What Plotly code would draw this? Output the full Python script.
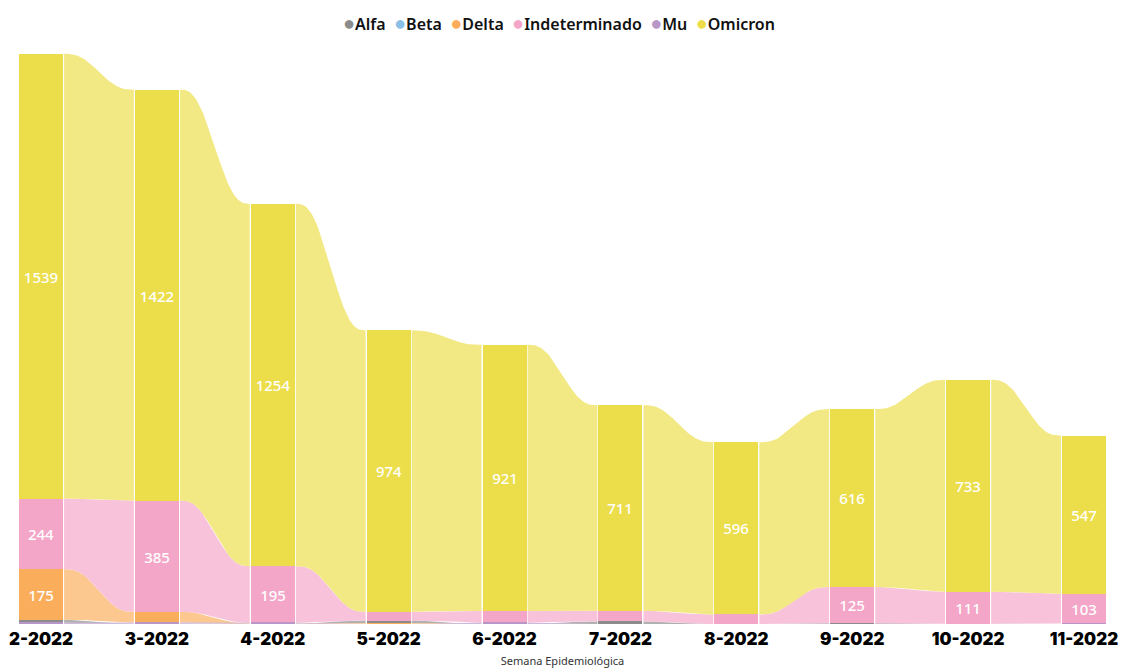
import numpy as np
import plotly.graph_objects as go

# ---- data ----
categories = ["2-2022", "3-2022", "4-2022", "5-2022", "6-2022",
              "7-2022", "8-2022", "9-2022", "10-2022", "11-2022"]
series_names = ["Alfa", "Beta", "Delta", "Indeterminado", "Mu", "Omicron"]
alfa = [11, 1, 0, 9, 0, 9, 0, 3, 1, 0]
beta = [0, 0, 0, 0, 0, 0, 0, 0, 0, 0]
delta = [175, 37, 2, 3, 0, 0, 0, 0, 0, 0]
indeterminado = [244, 385, 195, 30, 40, 37, 33, 125, 111, 103]
mu = [4, 4, 3, 0, 5, 0, 0, 0, 0, 2]
omicron = [1539, 1422, 1254, 974, 921, 711, 596, 616, 733, 547]
label_min = 100  # values shown as data labels only if large enough

# ---- styles ----
bar_colors = {
    "Alfa": "#8C8C8C",
    "Beta": "#8AC0E6",
    "Delta": "#FAAE5C",
    "Indeterminado": "#F3A6C8",
    "Mu": "#B996C8",
    "Omicron": "#ECDE4A",
}
ribbon_mix = 0.32  # blend with white


def lighten(hex_color, mix):
    h = hex_color.lstrip("#")
    r, g, b = (int(h[i:i + 2], 16) for i in (0, 2, 4))
    r, g, b = (round(c + (255 - c) * mix) for c in (r, g, b))
    return f"rgb({r},{g},{b})"


values = {
    "Alfa": alfa, "Beta": beta, "Delta": delta,
    "Indeterminado": indeterminado, "Mu": mu, "Omicron": omicron,
}
n = len(categories)
xs = np.arange(n)
bar_w = 0.38
gap = 0.009

# ribbon-chart stacking: at each category, smallest value at the bottom
bases = {s: [0.0] * n for s in series_names}
for i in range(n):
    order = sorted(series_names, key=lambda s: (values[s][i], series_names.index(s)))
    acc = 0.0
    for s in order:
        bases[s][i] = acc
        acc += values[s][i]


def ease(t):
    return t * t * t * (t * (6 * t - 15) + 10)


fig = go.Figure()

# ribbons
t = np.linspace(0, 1, 60)
for s in series_names:
    v = values[s]
    for i in range(n - 1):
        if v[i] == 0 and v[i + 1] == 0:
            continue
        x0 = xs[i] + bar_w / 2 + gap
        x1 = xs[i + 1] - bar_w / 2 - gap
        xx = x0 + (x1 - x0) * t
        e = ease(t)
        b0, b1 = bases[s][i], bases[s][i + 1]
        t0, t1 = b0 + v[i], b1 + v[i + 1]
        bot = b0 + (b1 - b0) * e
        top = t0 + (t1 - t0) * e
        px = np.concatenate([xx, xx[::-1]])
        py = np.concatenate([bot, top[::-1]])
        fig.add_trace(go.Scatter(
            x=px, y=py, mode="lines", fill="toself",
            fillcolor=lighten(bar_colors[s], ribbon_mix),
            line=dict(width=0), hoverinfo="skip", showlegend=False))

# bars
for s in series_names:
    v = values[s]
    txt = [str(val) if val >= label_min else "" for val in v]
    fig.add_trace(go.Bar(
        x=xs, y=v, base=bases[s], width=bar_w,
        marker=dict(color=bar_colors[s], line=dict(width=0)),
        text=txt, textposition="inside", insidetextanchor="middle",
        textangle=0, constraintext="none",
        textfont=dict(color="white", size=15, family="Noto Sans", weight=500),
        name=s, showlegend=False))

# legend as a text line
legend_text = "&nbsp;&nbsp;".join(
    f"<span style='color:{bar_colors[s]};font-size:20px'>●</span>{s}" for s in series_names)

# the page body has an 8px margin, so the figure is sized/placed to compensate
fig_w, fig_h = 1118, 660
top_m, bot_m, left_m, right_m = 38, 44, 11, 20
fig.add_annotation(
    text=legend_text, x=0.497, y=1 + (top_m - 14) / (fig_h - top_m - bot_m),
    xref="paper", yref="paper", yanchor="middle",
    showarrow=False, font=dict(family="Noto Sans", size=16, color="#111", weight=600))

fig.update_layout(
    width=fig_w, height=fig_h,
    margin=dict(l=left_m, r=right_m, t=top_m, b=bot_m, autoexpand=False),
    paper_bgcolor="white", plot_bgcolor="white",
    barmode="overlay", bargap=0,
    showlegend=False,
    xaxis=dict(
        range=[-bar_w / 2, n - 1 + bar_w / 2],
        tickmode="array", tickvals=list(xs), ticktext=categories,
        showgrid=False, zeroline=False, showline=False, ticks="",
        automargin=False, ticklabelstandoff=3, ticklabeloverflow="allow",
        tickfont=dict(family="Inter", size=17, color="black", weight=900),
        title=dict(text="Semana Epidemiológica", standoff=12,
                   font=dict(family="Noto Sans", size=11, color="#333")),
        fixedrange=True,
    ),
    yaxis=dict(range=[0, 2000], visible=False, fixedrange=True, automargin=False),
)

fig.write_html("out.html")
